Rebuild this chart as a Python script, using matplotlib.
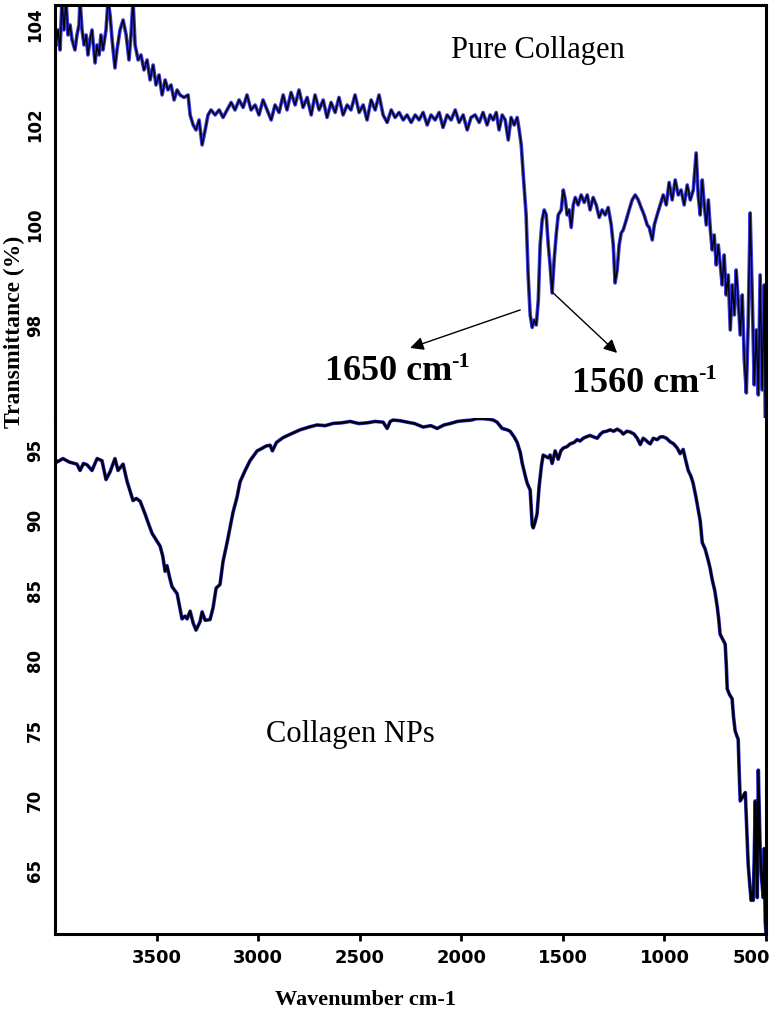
import matplotlib
matplotlib.use('Agg')
import matplotlib.pyplot as plt
from matplotlib.transforms import ScaledTranslation

# Pure collagen spectrum (top panel)
pure_wn = [3995, 3985, 3975, 3966, 3956, 3946, 3936, 3926, 3916, 3902, 3892, 3882, 3877, 3867,
           3857, 3847, 3838, 3828, 3818, 3803, 3793, 3783, 3774, 3764, 3749, 3739, 3729, 3719,
           3705, 3695, 3680, 3665, 3650, 3636, 3626, 3616, 3606, 3591, 3577, 3562, 3547, 3532,
           3517, 3503, 3488, 3473, 3458, 3444, 3429, 3414, 3399, 3385, 3365, 3345, 3335, 3320,
           3306, 3291, 3276, 3261, 3247, 3232, 3212, 3192, 3173, 3153, 3133, 3114, 3094, 3074,
           3055, 3035, 3015, 2996, 2976, 2956, 2936, 2917, 2897, 2877, 2858, 2838, 2818, 2799,
           2779, 2759, 2739, 2720, 2700, 2680, 2661, 2641, 2621, 2602, 2582, 2562, 2543, 2523,
           2503, 2483, 2464, 2444, 2424, 2405, 2385, 2365, 2345, 2326, 2306, 2286, 2267, 2247,
           2227, 2208, 2188, 2168, 2149, 2129, 2109, 2090, 2070, 2050, 2030, 2011, 1991, 1971,
           1952, 1932, 1912, 1893, 1873, 1858, 1843, 1828, 1814, 1799, 1784, 1769, 1755, 1740,
           1725, 1715, 1705, 1695, 1686, 1681, 1671, 1661, 1651, 1641, 1631, 1621, 1612, 1602,
           1592, 1582, 1572, 1563, 1553, 1543, 1533, 1523, 1508, 1498, 1488, 1479, 1469, 1459,
           1449, 1439, 1425, 1410, 1395, 1380, 1366, 1351, 1336, 1321, 1307, 1292, 1277, 1262,
           1252, 1243, 1233, 1223, 1213, 1203, 1188, 1174, 1159, 1144, 1129, 1115, 1100, 1085,
           1075, 1060, 1050, 1036, 1021, 1006, 991, 977, 962, 947, 932, 918, 903, 888, 873, 858,
           844, 834, 824, 814, 804, 794, 784, 774, 765, 755, 745, 735, 725, 716, 706, 696, 686,
           676, 666, 656, 647, 637, 627, 617, 607, 597, 588, 578, 568, 558, 548, 538, 529, 519,
           509, 504, 500]
pure_t = [103.6, 103.9, 103.5, 104.5, 103.9, 104.5, 103.8, 104.0, 103.7, 103.5, 103.8, 104.0, 104.5, 103.9,
          103.6, 103.8, 103.4, 103.7, 103.9, 103.24, 103.6, 103.4, 103.8, 103.5, 103.9, 104.5, 104.2, 103.7,
          103.14, 103.5, 103.9, 104.1, 103.8, 103.3, 103.8, 104.5, 103.6, 103.3, 103.4, 103.1, 103.3, 102.9,
          103.2, 102.8, 103.0, 102.6, 102.9, 102.7, 102.8, 102.5, 102.7, 102.6, 102.55, 102.6, 102.2, 102.0,
          101.9, 102.1, 101.6, 101.9, 102.2, 102.3, 102.2, 102.3, 102.15, 102.3, 102.45, 102.3, 102.5, 102.35,
          102.6, 102.3, 102.4, 102.2, 102.5, 102.3, 102.1, 102.4, 102.25, 102.6, 102.3, 102.65, 102.4, 102.7,
          102.35, 102.55, 102.2, 102.6, 102.3, 102.5, 102.15, 102.45, 102.25, 102.55, 102.2, 102.4, 102.3, 102.6,
          102.25, 102.4, 102.1, 102.5, 102.3, 102.6, 102.2, 102.05, 102.3, 102.15, 102.25, 102.1, 102.2, 102.05,
          102.2, 102.1, 102.25, 102.0, 102.2, 102.1, 102.25, 101.95, 102.2, 102.1, 102.3, 102.05, 102.2, 101.9,
          102.15, 102.2, 102.05, 102.25, 102.0, 102.2, 102.1, 102.25, 101.9, 102.2, 102.1, 101.7, 102.15, 102.0,
          102.15, 101.9, 101.6, 101.0, 100.5, 100.2, 99.0, 98.2, 97.95, 98.1, 98.0, 98.5, 99.6, 100.1,
          100.3, 100.2, 99.6, 99.2, 98.64, 99.3, 99.8, 100.2, 100.3, 100.7, 100.5, 100.2, 100.3, 99.95,
          100.4, 100.55, 100.4, 100.6, 100.45, 100.6, 100.3, 100.55, 100.4, 100.15, 100.3, 100.2, 100.35, 100.0,
          99.6, 98.84, 99.1, 99.6, 99.84, 99.9, 100.1, 100.3, 100.5, 100.6, 100.5, 100.35, 100.2, 100.0,
          99.95, 99.7, 100.0, 100.2, 100.4, 100.6, 100.4, 100.85, 100.5, 100.9, 100.6, 100.7, 100.4, 100.8, 100.5, 100.7,
          101.44, 100.6, 100.2, 100.9, 100.4, 100.0, 100.5, 99.9, 99.5, 99.8, 99.2, 99.6, 99.2, 98.8, 99.4, 98.6, 99.0,
          97.9, 98.8, 98.2, 99.1, 98.5, 97.8, 98.6, 97.3, 96.64, 98.0, 100.24, 98.6, 96.8, 97.9, 96.6, 99.0, 96.7,
          98.8, 96.2, 95.5]

# Collagen nanoparticles spectrum (bottom panel)
np_wn = [3995, 3990, 3961, 3930, 3892, 3877, 3860, 3842, 3818, 3793, 3769, 3749, 3729, 3705, 3690,
         3665, 3645, 3616, 3600, 3581, 3557, 3540, 3522, 3500, 3483, 3470, 3458, 3449, 3435, 3424,
         3399, 3375, 3360, 3350, 3335, 3320, 3306, 3286, 3276, 3261, 3237, 3222, 3207, 3188, 3173,
         3153, 3138, 3124, 3104, 3089, 3064, 3040, 3005, 2991, 2960, 2941, 2930, 2910, 2877, 2840,
         2794, 2750, 2710, 2670, 2631, 2590, 2547, 2505, 2464, 2425, 2385, 2365, 2350, 2336, 2300,
         2267, 2230, 2188, 2150, 2119, 2085, 2055, 2020, 1990, 1950, 1925, 1893, 1860, 1843, 1824,
         1799, 1774, 1760, 1740, 1725, 1710, 1700, 1685, 1676, 1661, 1651, 1646, 1637, 1627, 1617,
         1605, 1597, 1585, 1572, 1563, 1553, 1538, 1523, 1510, 1498, 1480, 1464, 1445, 1430, 1415,
         1400, 1385, 1366, 1350, 1331, 1315, 1302, 1285, 1267, 1250, 1233, 1215, 1203, 1185, 1169,
         1150, 1134, 1119, 1105, 1095, 1080, 1070, 1055, 1036, 1020, 1006, 990, 972, 955, 937,
         923, 908, 895, 883, 870, 859, 845, 834, 824, 814, 800, 785, 775, 765, 752,
         740, 733, 726, 712, 701, 695, 691, 680, 667, 660, 652, 645, 637, 632, 627,
         615, 602, 595, 588, 580, 573, 568, 563, 558, 553, 548, 543, 538, 533, 529,
         522, 514, 509, 504, 500]
np_t = [94.3, 94.2, 94.45, 94.2, 94.05, 93.6, 94.1, 94.0, 93.6, 94.45, 94.3, 92.95, 93.5, 94.45, 93.6,
        94.05, 92.8, 91.45, 91.6, 91.4, 90.5, 89.8, 89.1, 88.6, 88.2, 87.5, 86.4, 86.8, 85.9, 85.3,
        84.8, 83.0, 83.2, 83.0, 83.55, 82.7, 82.2, 82.8, 83.5, 82.9, 82.95, 83.8, 85.2, 85.45, 87.1,
        88.45, 89.55, 90.6, 91.7, 92.8, 93.6, 94.3, 95.0, 95.1, 95.35, 95.4, 95.0, 95.6, 95.95, 96.2,
        96.5, 96.7, 96.85, 96.8, 96.96, 97.0, 97.1, 96.95, 97.0, 97.1, 97.05, 96.6, 97.1, 97.2, 97.15,
        97.05, 96.95, 96.7, 96.8, 96.6, 96.85, 96.95, 97.1, 97.15, 97.2, 97.3, 97.3, 97.25, 97.2, 97.05,
        96.6, 96.5, 96.4, 96.0, 95.6, 94.9, 94.1, 93.2, 92.7, 92.2, 89.7, 89.5, 89.9, 90.5, 92.45,
        94.0, 94.7, 94.6, 94.5, 94.7, 94.1, 95.0, 94.4, 95.0, 95.2, 95.3, 95.5, 95.6, 95.8, 95.7,
        95.9, 96.0, 96.1, 96.0, 95.9, 96.2, 96.35, 96.4, 96.5, 96.4, 96.55, 96.4, 96.2, 96.4, 96.35,
        96.2, 95.9, 95.45, 95.9, 95.8, 95.6, 95.5, 95.9, 95.8, 96.0, 96.0, 95.9, 95.65, 95.5, 95.2,
        94.8, 95.1, 94.3, 93.6, 93.2, 92.7, 91.7, 90.8, 90.0, 88.45, 88.0, 87.2, 86.6, 85.8, 85.0,
        83.85, 83.0, 81.9, 81.5, 81.2, 79.5, 78.0, 77.6, 77.3, 76.0, 75.0, 74.7, 74.4, 72.0, 70.0,
        70.3, 70.6, 68.0, 65.5, 64.0, 62.9, 63.5, 62.9, 66.0, 70.0, 66.5, 63.1, 72.2, 69.0, 66.6,
        64.5, 63.1, 66.6, 61.4, 60.5]

x_ticks = [3500, 3000, 2500, 2000, 1500, 1000, 500]
top_ticks = [98, 100, 102, 104]
bottom_ticks = [65, 70, 75, 80, 85, 90, 95]

serif = 'Liberation Serif'

fig = plt.figure(figsize=(7.74, 10.11), dpi=100)
ax1 = fig.add_axes([0.0711, 0.5866, 0.9186, 0.4085])
ax2 = fig.add_axes([0.0711, 0.0762, 0.9186, 0.5104])

ax1.plot(pure_wn, pure_t, color='#3a3ae6', lw=2.6)
ax1.plot(pure_wn, pure_t, color='black', lw=1.0)
ax2.plot(np_wn, np_t, color='#2a2ad8', lw=2.6)
ax2.plot(np_wn, np_t, color='black', lw=1.6)

for ax in (ax1, ax2):
    ax.set_xlim(4000, 500)
    for s in ax.spines.values():
        s.set_linewidth(2.2)
    ax.tick_params(axis='y', length=0, pad=8)

ax1.spines['bottom'].set_visible(False)
ax2.spines['top'].set_visible(False)

ax1.set_ylim(96.14, 104.4)
ax1.set_xticks([])
ax1.set_yticks(top_ticks)
ax1.set_yticklabels([str(v) for v in top_ticks], rotation=90, va='center',
                    fontweight='bold', fontsize=12)

ax2.set_ylim(60.5, 97.35)
ax2.set_yticks(bottom_ticks)
ax2.set_yticklabels([str(v) for v in bottom_ticks], rotation=90, va='center',
                    fontweight='bold', fontsize=12)
ax2.set_xticks(x_ticks)
ax2.set_xticklabels([str(v) for v in x_ticks], fontweight='bold', fontsize=13)
ax2.tick_params(axis='x', direction='out', length=5, width=2, pad=6)
# the last label sits a little left of its tick so it stays inside the picture
last = ax2.get_xticklabels()[-1]
last.set_transform(last.get_transform() + ScaledTranslation(-0.15, 0, fig.dpi_scale_trans))

# annotations
ax1.text(1622, 103.34, 'Pure Collagen', ha='center', va='baseline',
         family=serif, fontsize=22)
ax2.text(2547, 74.2, 'Collagen NPs', ha='center', va='baseline',
         family=serif, fontsize=22)

ax1.text(2671, 96.9, '1650 cm', ha='left', va='baseline',
         family=serif, fontweight='bold', fontsize=26)
ax1.text(2050, 97.16, '-1', ha='left', va='baseline',
         family=serif, fontweight='bold', fontsize=16)
ax1.text(1454, 96.66, '1560 cm', ha='left', va='baseline',
         family=serif, fontweight='bold', fontsize=26)
ax1.text(834, 96.92, '-1', ha='left', va='baseline',
         family=serif, fontweight='bold', fontsize=16)

arrow = dict(arrowstyle='-|>', color='black', lw=1.0, mutation_scale=20,
             shrinkA=0, shrinkB=0)
ax1.annotate('', xy=(2252, 97.54), xytext=(1710, 98.3), arrowprops=arrow)
ax1.annotate('', xy=(1233, 97.44), xytext=(1548, 98.64), arrowprops=arrow)

fig.text(0.019, 0.672, 'Transmittance (%)', rotation=90, ha='center', va='center',
         family=serif, fontweight='bold', fontsize=17)
fig.text(0.4716, 0.011, 'Wavenumber cm-1', ha='center', va='center',
         family=serif, fontweight='bold', fontsize=16)

fig.savefig('out.png', dpi=100)
